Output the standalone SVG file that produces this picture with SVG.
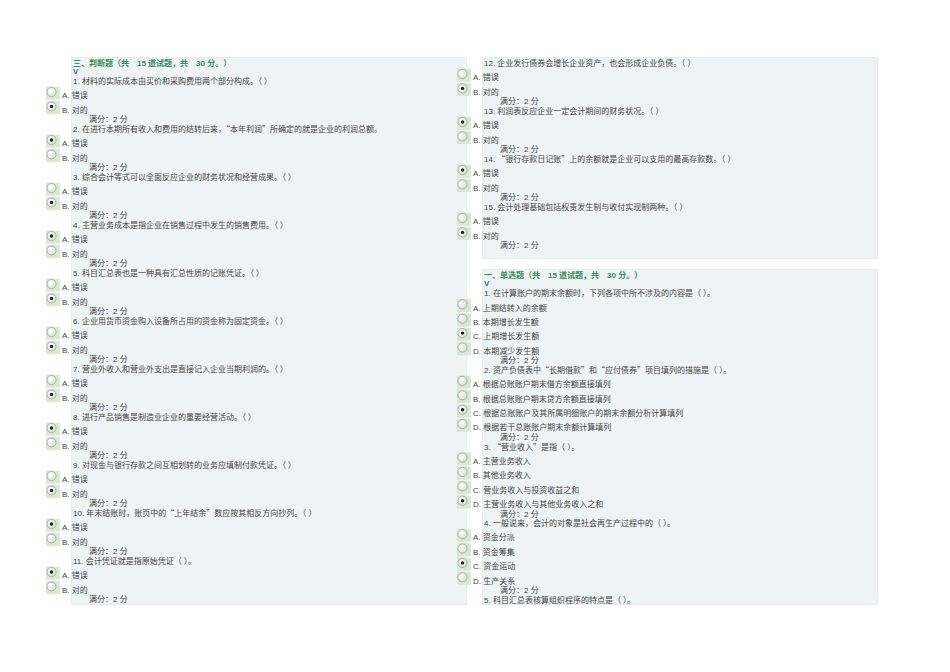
<svg xmlns="http://www.w3.org/2000/svg" xmlns:xlink="http://www.w3.org/1999/xlink" width="950" height="672" viewBox="0 0 950 672">
<style>
text{font-family:"Liberation Sans","Noto Sans CJK SC",sans-serif;font-size:8px;fill:#444444}
.cj{font-family:"Noto Sans CJK SC",sans-serif}
.ttl{font-weight:bold;fill:#3b8a5e}
.v{font-weight:bold;fill:#2e6e78}
.panel{fill:#eef3f3;stroke:#e6ebeb;stroke-width:1}
</style>
<defs>
<radialGradient id="rg" cx="0.35" cy="0.35" r="0.7">
<stop offset="0" stop-color="#ffffff"/>
<stop offset="1" stop-color="#dcdcdc"/>
</radialGradient>
<symbol id="r0" overflow="visible">
<rect x="0" y="0" width="14" height="13" fill="#d5e9d3"/>
<circle cx="5.5" cy="5.3" r="4.6" fill="url(#rg)" stroke="#959f9f" stroke-width="0.8"/>
</symbol>
<symbol id="r1" overflow="visible">
<rect x="0" y="0" width="14" height="13" fill="#d5e9d3"/>
<circle cx="5.5" cy="5.3" r="4.6" fill="url(#rg)" stroke="#959f9f" stroke-width="0.8"/>
<circle cx="5.5" cy="5.3" r="1.7" fill="#1e1e1e"/>
</symbol>
</defs>
<rect width="950" height="672" fill="#ffffff"/>
<g id="panels">
<rect class="panel" x="71.5" y="57.5" width="395" height="547"/>
<rect class="panel" x="482.5" y="57.5" width="395" height="201"/>
<rect class="panel" x="482.5" y="269.5" width="395" height="335"/>
</g>
<g id="connectors"/>
<g id="section3-header">
<text class="ttl" x="73" y="66.3">三、判断题（共　15 道试题，共　30 分。）</text>
<text class="v" x="73" y="73.7">V</text>
</g>
<g id="q1" transform="translate(0,81)">
<text x="73" y="3">1. 材料的实际成本由买价和采购费用两个部分构成。（ ）</text>
<use xlink:href="#r0" x="46" y="5.7"/><text x="62" y="17.4">A. 错误</text>
<use xlink:href="#r1" x="46" y="20.1"/><text x="62" y="31.8">B. 对的</text>
<text x="89" y="41.2">满分：2 分</text>
</g>
<g id="q2" transform="translate(0,129)">
<text x="73" y="3">2. 在进行本期所有收入和费用的结转后来，<tspan class="cj">“</tspan>本年利润<tspan class="cj">”</tspan>所确定的就是企业的利润总额。</text>
<use xlink:href="#r1" x="46" y="5.7"/><text x="62" y="17.4">A. 错误</text>
<use xlink:href="#r0" x="46" y="20.1"/><text x="62" y="31.8">B. 对的</text>
<text x="89" y="41.2">满分：2 分</text>
</g>
<g id="q3" transform="translate(0,177)">
<text x="73" y="3">3. 综合会计等式可以全面反应企业的财务状况和经营成果。（ ）</text>
<use xlink:href="#r0" x="46" y="5.7"/><text x="62" y="17.4">A. 错误</text>
<use xlink:href="#r1" x="46" y="20.1"/><text x="62" y="31.8">B. 对的</text>
<text x="89" y="41.2">满分：2 分</text>
</g>
<g id="q4" transform="translate(0,225)">
<text x="73" y="3">4. 主营业务成本是指企业在销售过程中发生的销售费用。（ ）</text>
<use xlink:href="#r1" x="46" y="5.7"/><text x="62" y="17.4">A. 错误</text>
<use xlink:href="#r0" x="46" y="20.1"/><text x="62" y="31.8">B. 对的</text>
<text x="89" y="41.2">满分：2 分</text>
</g>
<g id="q5" transform="translate(0,273)">
<text x="73" y="3">5. 科目汇总表也是一种具有汇总性质的记账凭证。（ ）</text>
<use xlink:href="#r0" x="46" y="5.7"/><text x="62" y="17.4">A. 错误</text>
<use xlink:href="#r1" x="46" y="20.1"/><text x="62" y="31.8">B. 对的</text>
<text x="89" y="41.2">满分：2 分</text>
</g>
<g id="q6" transform="translate(0,321)">
<text x="73" y="3">6. 企业用货币资金购入设备所占用的资金称为固定资金。（ ）</text>
<use xlink:href="#r0" x="46" y="5.7"/><text x="62" y="17.4">A. 错误</text>
<use xlink:href="#r1" x="46" y="20.1"/><text x="62" y="31.8">B. 对的</text>
<text x="89" y="41.2">满分：2 分</text>
</g>
<g id="q7" transform="translate(0,369)">
<text x="73" y="3">7. 营业外收入和营业外支出是直接记入企业当期利润的。（ ）</text>
<use xlink:href="#r0" x="46" y="5.7"/><text x="62" y="17.4">A. 错误</text>
<use xlink:href="#r1" x="46" y="20.1"/><text x="62" y="31.8">B. 对的</text>
<text x="89" y="41.2">满分：2 分</text>
</g>
<g id="q8" transform="translate(0,417)">
<text x="73" y="3">8. 进行产品销售是制造业企业的重要经营活动。（ ）</text>
<use xlink:href="#r1" x="46" y="5.7"/><text x="62" y="17.4">A. 错误</text>
<use xlink:href="#r0" x="46" y="20.1"/><text x="62" y="31.8">B. 对的</text>
<text x="89" y="41.2">满分：2 分</text>
</g>
<g id="q9" transform="translate(0,465)">
<text x="73" y="3">9. 对现金与银行存款之间互相划转的业务应填制付款凭证。（ ）</text>
<use xlink:href="#r0" x="46" y="5.7"/><text x="62" y="17.4">A. 错误</text>
<use xlink:href="#r1" x="46" y="20.1"/><text x="62" y="31.8">B. 对的</text>
<text x="89" y="41.2">满分：2 分</text>
</g>
<g id="q10" transform="translate(0,513)">
<text x="73" y="3">10. 年末结账时，账页中的<tspan class="cj">“</tspan>上年结余<tspan class="cj">”</tspan>数应按其相反方向抄列。（ ）</text>
<use xlink:href="#r1" x="46" y="5.7"/><text x="62" y="17.4">A. 错误</text>
<use xlink:href="#r0" x="46" y="20.1"/><text x="62" y="31.8">B. 对的</text>
<text x="89" y="41.2">满分：2 分</text>
</g>
<g id="q11" transform="translate(0,561)">
<text x="73" y="3">11. 会计凭证就是指原始凭证（ ）。</text>
<use xlink:href="#r1" x="46" y="5.7"/><text x="62" y="17.4">A. 错误</text>
<use xlink:href="#r0" x="46" y="20.1"/><text x="62" y="31.8">B. 对的</text>
<text x="89" y="41.2">满分：2 分</text>
</g>
<g id="q12" transform="translate(411,63)">
<text x="73" y="3">12. 企业发行债券会增长企业资产，也会形成企业负债。（ ）</text>
<use xlink:href="#r0" x="46" y="5.7"/><text x="62" y="17.4">A. 错误</text>
<use xlink:href="#r1" x="46" y="20.1"/><text x="62" y="31.8">B. 对的</text>
<text x="89" y="41.2">满分：2 分</text>
</g>
<g id="q13" transform="translate(411,111)">
<text x="73" y="3">13. 利润表反应企业一定会计期间的财务状况。（ ）</text>
<use xlink:href="#r1" x="46" y="5.7"/><text x="62" y="17.4">A. 错误</text>
<use xlink:href="#r0" x="46" y="20.1"/><text x="62" y="31.8">B. 对的</text>
<text x="89" y="41.2">满分：2 分</text>
</g>
<g id="q14" transform="translate(411,159)">
<text x="73" y="3">14. <tspan class="cj">“</tspan>银行存款日记账<tspan class="cj">”</tspan>上的余额就是企业可以支用的最高存款数。（ ）</text>
<use xlink:href="#r1" x="46" y="5.7"/><text x="62" y="17.4">A. 错误</text>
<use xlink:href="#r0" x="46" y="20.1"/><text x="62" y="31.8">B. 对的</text>
<text x="89" y="41.2">满分：2 分</text>
</g>
<g id="q15" transform="translate(411,207)">
<text x="73" y="3">15. 会计处理基础包括权责发生制与收付实现制两种。（ ）</text>
<use xlink:href="#r0" x="46" y="5.7"/><text x="62" y="17.4">A. 错误</text>
<use xlink:href="#r1" x="46" y="20.1"/><text x="62" y="31.8">B. 对的</text>
<text x="89" y="41.2">满分：2 分</text>
</g>
<g id="section1-header">
<text class="ttl" x="484" y="278">一、单选题（共　15 道试题，共　30 分。）</text>
<text class="v" x="484" y="285.5">V</text>
</g>
<g id="s1" transform="translate(411,293.3)">
<text x="73" y="3">1. 在计算账户的期末余额时，下列各项中所不涉及的内容是（ ）。</text>
<use xlink:href="#r0" x="46" y="5.7"/><text x="62" y="17.4">A. 上期结转入的余额</text>
<use xlink:href="#r0" x="46" y="20.1"/><text x="62" y="31.8">B. 本期增长发生额</text>
<use xlink:href="#r1" x="46" y="34.5"/><text x="62" y="46.2">C. 上期增长发生额</text>
<use xlink:href="#r0" x="46" y="48.9"/><text x="62" y="60.6">D. 本期减少发生额</text>
<text x="89" y="70">满分：2 分</text>
</g>
<g id="s2" transform="translate(411,369.9)">
<text x="73" y="3">2. 资产负债表中<tspan class="cj">“</tspan>长期借款<tspan class="cj">”</tspan>和<tspan class="cj">“</tspan>应付债券<tspan class="cj">”</tspan>项目填列的措施是（ ）。</text>
<use xlink:href="#r0" x="46" y="5.7"/><text x="62" y="17.4">A. 根据总账账户期末借方余额直接填列</text>
<use xlink:href="#r0" x="46" y="20.1"/><text x="62" y="31.8">B. 根据总账账户期末贷方余额直接填列</text>
<use xlink:href="#r1" x="46" y="34.5"/><text x="62" y="46.2">C. 根据总账账户及其所属明细账户的期末余额分析计算填列</text>
<use xlink:href="#r0" x="46" y="48.9"/><text x="62" y="60.6">D. 根据若干总账账户期末余额计算填列</text>
<text x="89" y="70">满分：2 分</text>
</g>
<g id="s3" transform="translate(411,446.5)">
<text x="73" y="3">3. <tspan class="cj">“</tspan>营业收入<tspan class="cj">”</tspan>是指（ ）。</text>
<use xlink:href="#r0" x="46" y="5.7"/><text x="62" y="17.4">A. 主营业务收入</text>
<use xlink:href="#r0" x="46" y="20.1"/><text x="62" y="31.8">B. 其他业务收入</text>
<use xlink:href="#r0" x="46" y="34.5"/><text x="62" y="46.2">C. 营业务收入与投资收益之和</text>
<use xlink:href="#r1" x="46" y="48.9"/><text x="62" y="60.6">D. 主营业务收入与其他业务收入之和</text>
<text x="89" y="70">满分：2 分</text>
</g>
<g id="s4" transform="translate(411,523.1)">
<text x="73" y="3">4. 一般说来，会计的对象是社会再生产过程中的（ ）。</text>
<use xlink:href="#r0" x="46" y="5.7"/><text x="62" y="17.4">A. 资金分派</text>
<use xlink:href="#r0" x="46" y="20.1"/><text x="62" y="31.8">B. 资金筹集</text>
<use xlink:href="#r1" x="46" y="34.5"/><text x="62" y="46.2">C. 资金运动</text>
<use xlink:href="#r0" x="46" y="48.9"/><text x="62" y="60.6">D. 生产关系</text>
<text x="89" y="70">满分：2 分</text>
</g>
<g id="s5" transform="translate(411,599.7)">
<text x="73" y="3">5. 科目汇总表核算组织程序的特点是（ ）。</text>
</g>
</svg>
